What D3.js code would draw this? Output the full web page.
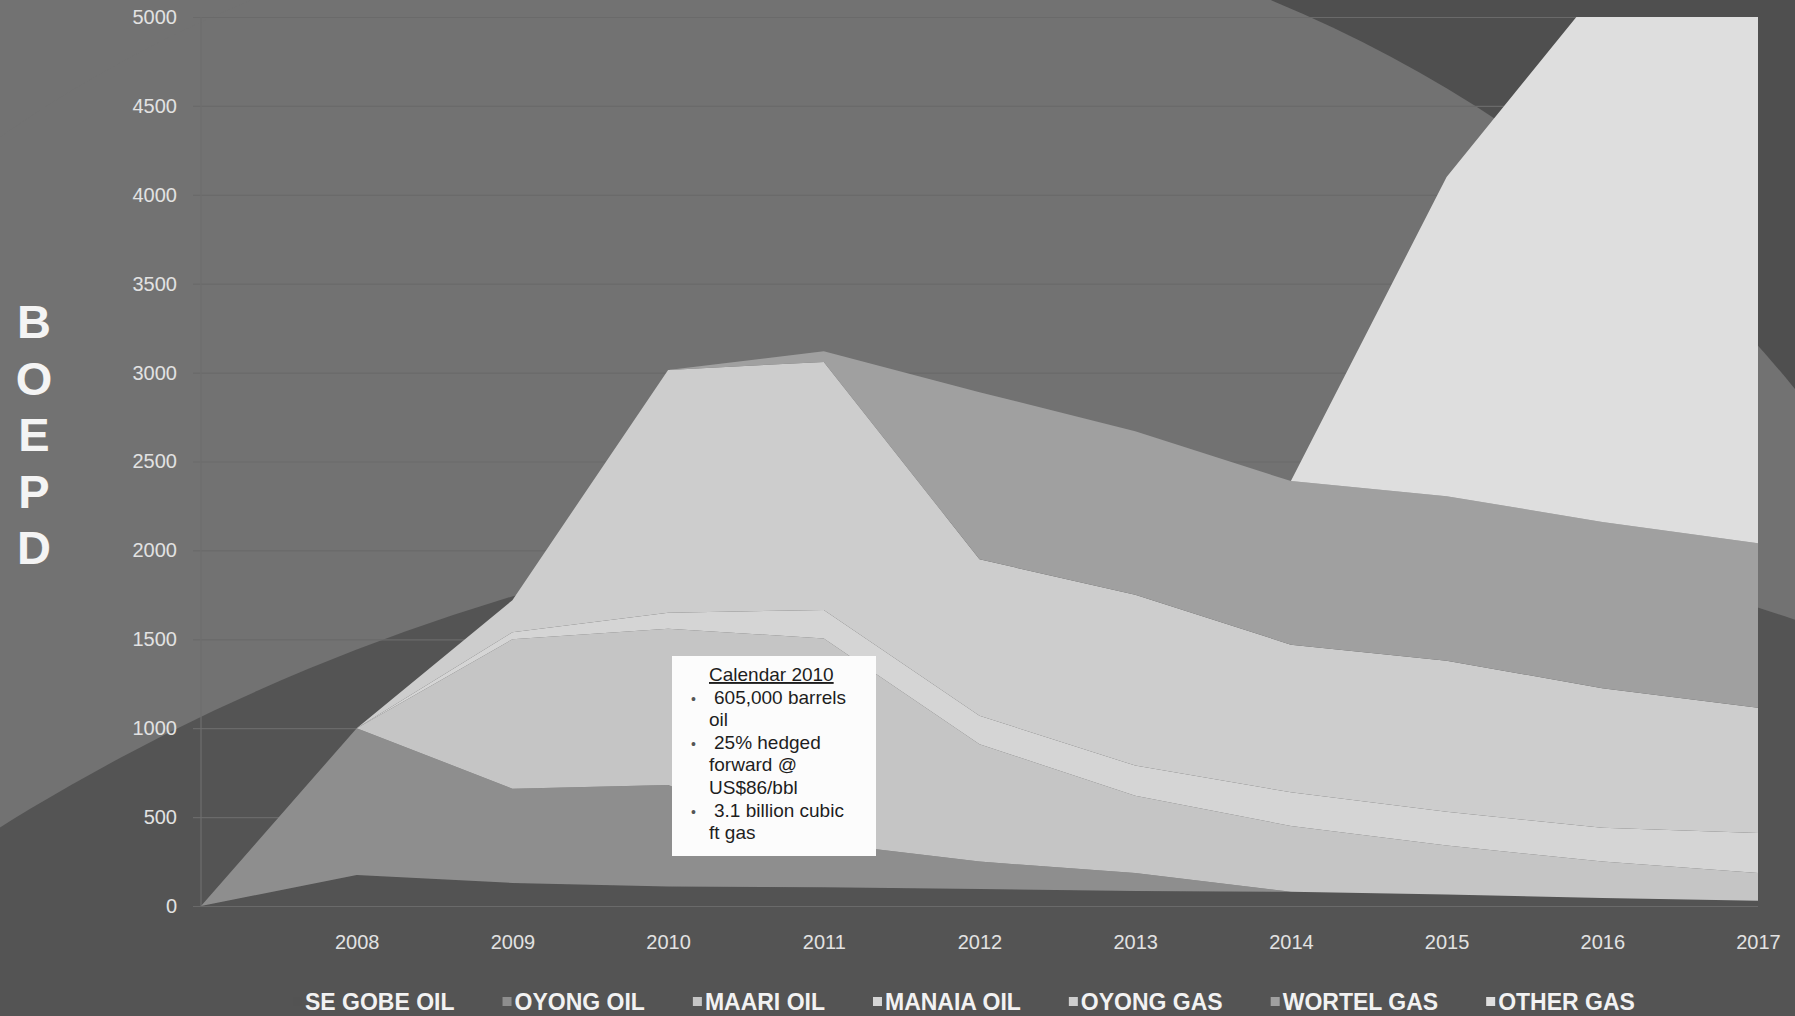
<!DOCTYPE html>
<html>
<head>
<meta charset="utf-8">
<script src="https://cdn.jsdelivr.net/npm/d3@7"></script>
<style>
  html, body { margin: 0; padding: 0; background: #727272; }
  svg { display: block; font-family: "Liberation Sans", Arial, Helvetica, sans-serif; }
</style>
</head>
<body>
<svg id="chart" width="1795" height="1016"></svg>
<script>
// Production outlook, barrels of oil equivalent per day, stacked by asset.
const years = [2007, 2008, 2009, 2010, 2011, 2012, 2013, 2014, 2015, 2016, 2017];
const seriesNames = ["SE GOBE OIL", "OYONG OIL", "MAARI OIL", "MANAIA OIL", "OYONG GAS", "WORTEL GAS", "OTHER GAS"];
const seGobeOil = [0, 175, 130, 110, 105, 95, 85, 80, 65, 45, 30];
const oyongOil  = [0, 825, 530, 570, 250, 155, 100, 0, 0, 0, 0];
const maariOil  = [0, 0, 840, 880, 1150, 660, 435, 370, 275, 205, 155];
const manaiaOil = [0, 0, 40, 90, 160, 160, 170, 190, 190, 190, 225];
const oyongGas  = [0, 0, 180, 1365, 1395, 880, 960, 830, 850, 785, 705];
const wortelGas = [0, 0, 0, 0, 60, 940, 920, 920, 925, 935, 925];
const otherGas  = [0, 0, 0, 0, 0, 0, 0, 0, 1795, 3020, 3300];
const seriesColors = ["#535353", "#8e8e8e", "#c5c5c5", "#d5d5d5", "#cdcdcd", "#a0a0a0", "#dedede"];

const yTicks = [0, 500, 1000, 1500, 2000, 2500, 3000, 3500, 4000, 4500, 5000];
const xTickYears = [2008, 2009, 2010, 2011, 2012, 2013, 2014, 2015, 2016, 2017];
const yTitleLetters = ["B", "O", "E", "P", "D"];

const calloutTitle = "Calendar 2010";
const calloutBullets = [
  ["605,000 barrels", "oil"],
  ["25% hedged", "forward @", "US$86/bbl"],
  ["3.1 billion cubic", "ft gas"]
];

// rows for the stack layout
const seriesValues = [seGobeOil, oyongOil, maariOil, manaiaOil, oyongGas, wortelGas, otherGas];
const table = years.map((yr, i) => {
  const row = { year: yr };
  seriesNames.forEach((n, k) => { row[n] = seriesValues[k][i]; });
  return row;
});

const W = 1795, H = 1016;
const svg = d3.select("#chart");

const x = d3.scaleLinear().domain([2007, 2017]).range([201, 1758]);
const y = d3.scaleLinear().domain([0, 5000]).range([906, 17]);

// slide backdrop: grey field with two large sweeping discs
const bg = svg.append("g");
bg.append("rect").attr("width", W).attr("height", H).attr("fill", "#727272");
bg.append("rect").attr("x", 1100).attr("width", W - 1100).attr("height", H).attr("fill", "#4f4f4f");
bg.append("circle").attr("cx", 761).attr("cy", 1235).attr("r", 1336).attr("fill", "#727272");
bg.append("circle").attr("cx", 1117).attr("cy", 2621).attr("r", 2113).attr("fill", "#545454");

// horizontal gridlines
const grid = svg.append("g")
  .attr("transform", "translate(193,0)")
  .call(d3.axisRight(y).tickValues(yTicks).tickSize(x(2017) - 193).tickFormat(""));
grid.select(".domain").remove();
grid.selectAll("line").attr("stroke", "#6a6a6a").attr("stroke-width", 1.2);

// value axis line
svg.append("line")
  .attr("x1", x(2007)).attr("x2", x(2007))
  .attr("y1", y(0)).attr("y2", y(5000))
  .attr("stroke", "#6e6e6e").attr("stroke-width", 1.2);

// stacked areas, clipped at the top of the value axis
svg.append("defs").append("clipPath").attr("id", "plotClip")
  .append("rect")
  .attr("x", 0).attr("y", y(5000))
  .attr("width", W).attr("height", H - y(5000));

const stack = d3.stack().keys(seriesNames);
const layers = stack(table);
const area = d3.area()
  .x(d => x(d.data.year))
  .y0(d => y(d[0]))
  .y1(d => y(d[1]));

svg.append("g").attr("clip-path", "url(#plotClip)")
  .selectAll("path")
  .data(layers)
  .join("path")
  .attr("d", area)
  .attr("fill", (d, i) => seriesColors[i]);

// value axis labels
const yAxis = svg.append("g")
  .attr("transform", `translate(${x(2007)},0)`)
  .call(d3.axisLeft(y).tickValues(yTicks).tickFormat(d3.format("d")).tickSize(0).tickPadding(24));
yAxis.select(".domain").remove();
yAxis.selectAll("text")
  .attr("fill", "#e2e2e2")
  .attr("font-size", 20)
  .attr("font-family", "'Liberation Sans', Arial, sans-serif");

// year labels
const xAxis = svg.append("g")
  .attr("transform", `translate(0,${y(0)})`)
  .call(d3.axisBottom(x).tickValues(xTickYears).tickFormat(d3.format("d")).tickSize(0).tickPadding(29));
xAxis.select(".domain").remove();
xAxis.selectAll("text")
  .attr("fill", "#e2e2e2")
  .attr("font-size", 20)
  .attr("font-family", "'Liberation Sans', Arial, sans-serif");

// stacked vertical axis title
const yTitle = svg.append("text")
  .attr("x", 34)
  .attr("text-anchor", "middle")
  .attr("font-size", 47)
  .attr("font-weight", "bold")
  .attr("fill", "#f4f4f4");
yTitleLetters.forEach((ch, i) => {
  yTitle.append("tspan").attr("x", 34).attr("y", 338 + i * 56.5).text(ch);
});

// annotation box
const box = svg.append("g");
box.append("rect")
  .attr("x", 672).attr("y", 656).attr("width", 204).attr("height", 200)
  .attr("fill", "#fcfcfc");
const lineH = 22.6;
let baseY = 681;
box.append("text")
  .attr("x", 709).attr("y", baseY)
  .attr("font-size", 19).attr("fill", "#1e1e1e")
  .attr("text-decoration", "underline")
  .text(calloutTitle);
calloutBullets.forEach(lines => {
  lines.forEach((ln, j) => {
    baseY += lineH;
    if (j === 0) {
      box.append("text")
        .attr("x", 691).attr("y", baseY)
        .attr("font-size", 14).attr("fill", "#555")
        .text("\u2022");
    }
    box.append("text")
      .attr("x", j === 0 ? 714 : 709).attr("y", baseY)
      .attr("font-size", 19).attr("fill", "#1e1e1e")
      .text(ln);
  });
});

// legend along the bottom
const legend = svg.append("g");
let lx = 305;
seriesNames.forEach((name, i) => {
  legend.append("rect")
    .attr("x", lx - 12).attr("y", 997)
    .attr("width", 9).attr("height", 9)
    .attr("fill", seriesColors[i]);
  const t = legend.append("text")
    .attr("x", lx).attr("y", 1010)
    .attr("font-size", 23).attr("font-weight", "bold")
    .attr("fill", "#f2f2f2")
    .text(name);
  lx += t.node().getComputedTextLength() + 60;
});
</script>
</body>
</html>
